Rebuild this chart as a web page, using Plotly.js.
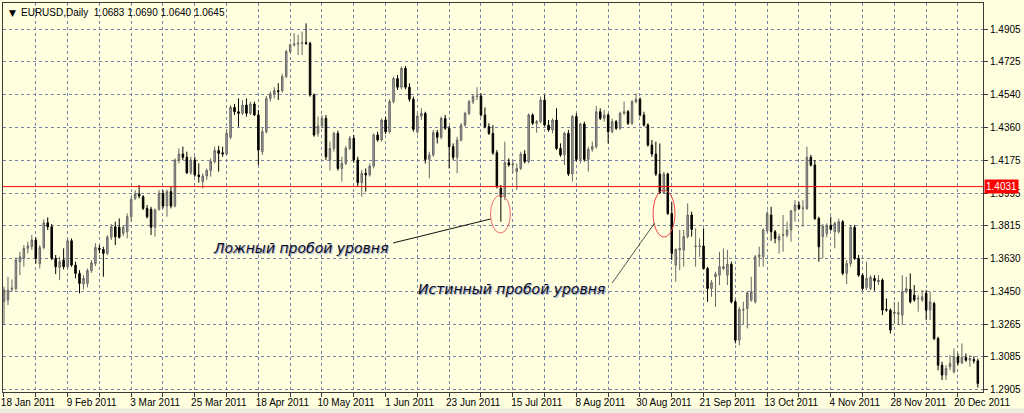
<!DOCTYPE html>
<html>
<head>
<meta charset="utf-8">
<script src="https://cdn.plot.ly/plotly-3.0.1.min.js"></script>
<style>
html,body{margin:0;padding:0;background:#FFFFE0;}
#chart{width:1024px;height:413px;}
</style>
</head>
<body>
<div id="chart"></div>
<script>
// ---- Data (EURUSD daily) ----
const firstDay = '2011-01-18';
const tickLabels = ['18 Jan 2011','9 Feb 2011','3 Mar 2011','25 Mar 2011','18 Apr 2011','10 May 2011','1 Jun 2011','23 Jun 2011','15 Jul 2011','8 Aug 2011','30 Aug 2011','21 Sep 2011','13 Oct 2011','4 Nov 2011','28 Nov 2011','20 Dec 2011'];
const priceTicks = [1.4905,1.4725,1.4540,1.4360,1.4175,1.3995,1.3815,1.3630,1.3450,1.3265,1.3085,1.2905];
const levelPrice = 1.4031;
const headerText = 'EURUSD,Daily  1.0683 1.0690 1.0640 1.0645';
const noteLabels = ['Ложный пробой уровня','Истинный пробой уровня'];

const openP = [
1.3391,1.3401,1.3460,1.3465,1.3614,1.3632,1.3688,1.3697,1.3734,1.3604,
1.3693,1.3830,1.3808,1.3632,1.3582,1.3623,1.3586,1.3730,1.3595,1.3549,
1.3490,1.3493,1.3564,1.3604,1.3688,1.3682,1.3660,1.3749,1.3808,1.3805,
1.3771,1.3780,1.3864,1.3966,1.3990,1.3975,1.3910,1.3905,1.3805,1.3905,
1.3994,1.3923,1.4003,1.3923,1.4179,1.4212,1.4194,1.4108,1.4179,1.4096,
1.4059,1.4090,1.4120,1.4170,1.4231,1.4219,1.4212,1.4305,1.4471,1.4447,
1.4438,1.4484,1.4438,1.4490,1.4429,1.4225,1.4336,1.4521,1.4546,1.4564,
1.4564,1.4642,1.4781,1.4818,1.4823,1.4827,1.4831,1.4827,1.4540,1.4327,
1.4368,1.4410,1.4179,1.4243,1.4327,1.4132,1.4160,1.4243,1.4299,1.4179,
1.4053,1.4105,1.4096,1.4145,1.4318,1.4290,1.4401,1.4336,1.4503,1.4631,
1.4583,1.4688,1.4583,1.4516,1.4336,1.4423,1.4438,1.4182,1.4207,1.4331,
1.4305,1.4410,1.4355,1.4253,1.4194,1.4290,1.4373,1.4438,1.4503,1.4531,
1.4534,1.4429,1.4364,1.4327,1.4219,1.4021,1.3975,1.4164,1.4151,1.4114,
1.4132,1.4212,1.4170,1.4429,1.4383,1.4392,1.4512,1.4373,1.4346,1.4401,
1.4243,1.4207,1.4327,1.4101,1.4420,1.4182,1.4379,1.4182,1.4238,1.4253,
1.4447,1.4410,1.4429,1.4336,1.4392,1.4355,1.4438,1.4447,1.4383,1.4503,
1.4516,1.4429,1.4373,1.4262,1.4212,1.4101,1.3997,1.4101,1.3882,1.3595,
1.3679,1.3679,1.3753,1.3873,1.3697,1.3697,1.3701,1.3576,1.3465,1.3530,
1.3539,1.3576,1.3539,1.3600,1.3391,1.3178,1.3345,1.3354,1.3401,1.3391,
1.3641,1.3641,1.3786,1.3873,1.3780,1.3734,1.3760,1.3762,1.3790,1.3897,
1.3929,1.3910,1.3910,1.4194,1.4151,1.3854,1.3753,1.3771,1.3816,1.3780,
1.3780,1.3836,1.3549,1.3604,1.3805,1.3632,1.3539,1.3471,1.3465,1.3521,
1.3502,1.3512,1.3349,1.3345,1.3326,1.3323,1.3317,1.3447,1.3460,1.3428,
1.3408,1.3401,1.3438,1.3345,1.3382,1.3187,1.3039,1.2984,1.3030,1.3002,
1.3085,1.3052,1.3082,1.3067,1.3070,1.3063];
const highP = [
1.3475,1.3530,1.3515,1.3638,1.3669,1.3706,1.3725,1.3762,1.3749,1.3706,
1.3849,1.3860,1.3823,1.3651,1.3641,1.3688,1.3743,1.3743,1.3614,1.3567,
1.3539,1.3576,1.3623,1.3716,1.3706,1.3697,1.3762,1.3823,1.3836,1.3854,
1.3818,1.3882,1.3975,1.4012,1.4040,1.3984,1.3929,1.3919,1.3910,1.4012,
1.4012,1.4016,1.4031,1.4188,1.4243,1.4253,1.4225,1.4197,1.4197,1.4160,
1.4105,1.4132,1.4188,1.4253,1.4257,1.4253,1.4346,1.4484,1.4490,1.4521,
1.4512,1.4521,1.4503,1.4503,1.4457,1.4355,1.4534,1.4559,1.4583,1.4605,
1.4657,1.4790,1.4827,1.4883,1.4874,1.4892,1.4938,1.4836,1.4549,1.4420,
1.4429,1.4429,1.4281,1.4336,1.4342,1.4197,1.4257,1.4312,1.4318,1.4197,
1.4123,1.4132,1.4160,1.4327,1.4336,1.4410,1.4420,1.4516,1.4642,1.4651,
1.4698,1.4701,1.4605,1.4531,1.4438,1.4466,1.4447,1.4225,1.4346,1.4346,
1.4420,1.4429,1.4368,1.4271,1.4308,1.4383,1.4447,1.4512,1.4546,1.4583,
1.4549,1.4471,1.4383,1.4373,1.4234,1.4040,1.4281,1.4188,1.4170,1.4160,
1.4225,1.4234,1.4438,1.4438,1.4401,1.4531,1.4540,1.4401,1.4410,1.4466,
1.4271,1.4336,1.4346,1.4429,1.4438,1.4386,1.4392,1.4253,1.4281,1.4479,
1.4466,1.4457,1.4438,1.4410,1.4401,1.4447,1.4503,1.4457,1.4512,1.4549,
1.4527,1.4447,1.4383,1.4290,1.4281,1.4271,1.4114,1.4108,1.3942,1.3688,
1.3790,1.3790,1.3938,1.3892,1.3799,1.3743,1.3799,1.3586,1.3512,1.3558,
1.3669,1.3688,1.3679,1.3614,1.3401,1.3363,1.3391,1.3447,1.3530,1.3651,
1.3697,1.3799,1.3897,1.3919,1.3790,1.3771,1.3873,1.3836,1.3901,1.3956,
1.3947,1.3956,1.4253,1.4207,1.4179,1.3864,1.3823,1.3827,1.3864,1.3836,
1.3854,1.3845,1.3623,1.3818,1.3818,1.3651,1.3549,1.3614,1.3539,1.3539,
1.3539,1.3521,1.3410,1.3354,1.3391,1.3391,1.3539,1.3530,1.3549,1.3484,
1.3428,1.3456,1.3456,1.3447,1.3391,1.3197,1.3058,1.3039,1.3095,1.3132,
1.3104,1.3160,1.3104,1.3095,1.3089,1.3076];
const lowP = [
1.3262,1.3373,1.3447,1.3453,1.3539,1.3586,1.3660,1.3679,1.3604,1.3576,
1.3682,1.3790,1.3623,1.3545,1.3512,1.3571,1.3576,1.3586,1.3521,1.3438,
1.3460,1.3471,1.3552,1.3589,1.3660,1.3530,1.3651,1.3734,1.3706,1.3743,
1.3756,1.3743,1.3836,1.3956,1.3966,1.3901,1.3854,1.3762,1.3753,1.3897,
1.3910,1.3864,1.3910,1.3916,1.4160,1.4179,1.4101,1.4096,1.4086,1.4053,
1.4021,1.4068,1.4086,1.4160,1.4114,1.4197,1.4207,1.4294,1.4429,1.4364,
1.4429,1.4420,1.4429,1.4423,1.4151,1.4207,1.4327,1.4503,1.4521,1.4512,
1.4553,1.4633,1.4772,1.4809,1.4762,1.4762,1.4818,1.4531,1.4308,1.4308,
1.4355,1.4179,1.4120,1.4225,1.4120,1.4059,1.4151,1.4234,1.4164,1.4031,
1.3975,1.4003,1.4086,1.4132,1.4281,1.4281,1.4323,1.4327,1.4494,1.4568,
1.4571,1.4571,1.4503,1.4336,1.4323,1.4401,1.4160,1.4077,1.4197,1.4271,
1.4294,1.4346,1.4132,1.4179,1.4105,1.4281,1.4364,1.4429,1.4490,1.4512,
1.4420,1.4355,1.4318,1.4207,1.4021,1.3836,1.3956,1.4142,1.4105,1.4012,
1.4123,1.4160,1.4160,1.4373,1.4331,1.4383,1.4364,1.4336,1.4327,1.4234,
1.4197,1.4151,1.4090,1.4059,1.4170,1.4160,1.4170,1.4114,1.4225,1.4243,
1.4401,1.4392,1.4271,1.4327,1.4346,1.4346,1.4429,1.4373,1.4373,1.4494,
1.4420,1.4364,1.4253,1.4197,1.4090,1.3990,1.3990,1.3873,1.3623,1.3502,
1.3567,1.3586,1.3743,1.3753,1.3586,1.3641,1.3571,1.3391,1.3419,1.3363,
1.3484,1.3567,1.3484,1.3382,1.3160,1.3150,1.3267,1.3243,1.3391,1.3382,
1.3586,1.3586,1.3775,1.3730,1.3716,1.3660,1.3669,1.3749,1.3725,1.3836,
1.3901,1.3808,1.3901,1.4142,1.3845,1.3614,1.3632,1.3749,1.3786,1.3688,
1.3771,1.3539,1.3490,1.3586,1.3623,1.3530,1.3453,1.3456,1.3456,1.3453,
1.3484,1.3317,1.3336,1.3215,1.3271,1.3262,1.3262,1.3438,1.3382,1.3391,
1.3336,1.3391,1.3289,1.3289,1.3178,1.3011,1.2956,1.2956,1.3011,1.2993,
1.3039,1.3045,1.3058,1.3030,1.3048,1.2915];
const closeP = [
1.3456,1.3456,1.3467,1.3623,1.3641,1.3688,1.3701,1.3734,1.3632,1.3693,
1.3830,1.3808,1.3632,1.3586,1.3614,1.3586,1.3730,1.3595,1.3549,1.3493,
1.3521,1.3564,1.3608,1.3693,1.3682,1.3660,1.3749,1.3808,1.3753,1.3749,
1.3805,1.3864,1.3960,1.3990,1.3979,1.3910,1.3864,1.3805,1.3901,1.3994,
1.3923,1.4003,1.3923,1.4179,1.4212,1.4194,1.4108,1.4179,1.4096,1.4086,
1.4090,1.4120,1.4170,1.4231,1.4216,1.4212,1.4327,1.4471,1.4447,1.4438,
1.4484,1.4438,1.4490,1.4429,1.4234,1.4336,1.4521,1.4546,1.4564,1.4559,
1.4642,1.4781,1.4818,1.4823,1.4827,1.4831,1.4827,1.4540,1.4318,1.4368,
1.4410,1.4197,1.4243,1.4327,1.4132,1.4160,1.4243,1.4299,1.4179,1.4053,
1.4105,1.4096,1.4145,1.4318,1.4290,1.4401,1.4336,1.4503,1.4631,1.4583,
1.4688,1.4583,1.4516,1.4349,1.4423,1.4438,1.4182,1.4207,1.4331,1.4305,
1.4410,1.4355,1.4253,1.4194,1.4290,1.4373,1.4438,1.4503,1.4531,1.4534,
1.4429,1.4364,1.4327,1.4219,1.4031,1.3975,1.4164,1.4151,1.4157,1.4132,
1.4212,1.4170,1.4429,1.4383,1.4392,1.4512,1.4373,1.4346,1.4401,1.4243,
1.4207,1.4327,1.4101,1.4420,1.4182,1.4379,1.4182,1.4238,1.4253,1.4447,
1.4410,1.4429,1.4336,1.4392,1.4355,1.4438,1.4447,1.4383,1.4503,1.4516,
1.4429,1.4373,1.4262,1.4212,1.4101,1.3997,1.4101,1.3882,1.3660,1.3682,
1.3688,1.3753,1.3873,1.3793,1.3701,1.3701,1.3576,1.3465,1.3497,1.3545,
1.3586,1.3586,1.3600,1.3391,1.3178,1.3349,1.3349,1.3441,1.3447,1.3641,
1.3651,1.3790,1.3882,1.3780,1.3743,1.3753,1.3764,1.3790,1.3897,1.3929,
1.3910,1.3912,1.4194,1.4151,1.3854,1.3697,1.3812,1.3816,1.3793,1.3827,
1.3836,1.3549,1.3604,1.3805,1.3632,1.3539,1.3465,1.3521,1.3527,1.3508,
1.3512,1.3345,1.3345,1.3234,1.3334,1.3330,1.3447,1.3464,1.3391,1.3401,
1.3410,1.3419,1.3345,1.3391,1.3187,1.3039,1.2984,1.3021,1.3048,1.3085,
1.3052,1.3082,1.3067,1.3076,1.3063,1.2937];

// ---- Helpers ----
const barsPerLabel = 16;
const n = openP.length;
const idx = [];
const dates = [];
(function(){
  const d = new Date(firstDay + 'T00:00:00Z');
  for (let i = 0; i < n; i++) {
    while (d.getUTCDay() === 0 || d.getUTCDay() === 6) d.setUTCDate(d.getUTCDate() + 1);
    idx.push(i);
    dates.push(d.toISOString().slice(0,10));
    d.setUTCDate(d.getUTCDate() + 1);
  }
})();
const xTickVals = [], xTickText = [];
for (let k = 0; k < tickLabels.length * 2; k++) {
  xTickVals.push(k * barsPerLabel / 2);
  xTickText.push(k % 2 === 0 ? tickLabels[k/2] : '');
}

const falseBreak = 125;   // bar of the false breakout
const trueBreak = 166;    // bar of the true breakout

const axisFont = {family: 'Liberation Sans, Arial, sans-serif', size: 10, color: '#000'};
const gridColor = '#7483a3';
const frameColor = '#3a3a3a';

const trace = {
  type: 'candlestick',
  x: idx, open: openP, high: highP, low: lowP, close: closeP,
  text: dates, hoverinfo: 'x+text',
  increasing: {line: {color: '#666666', width: 1}, fillcolor: '#a6a6a6'},
  decreasing: {line: {color: '#000000', width: 1}, fillcolor: '#000000'},
  whiskerwidth: 0,
  showlegend: false
};

const noteFont = {family: 'DejaVu Sans, Verdana, sans-serif', size: 14, color: '#0c0c1c', style: 'italic', shadow: '1px 1px 1px #8a9cc4'};

const layout = {
  width: 1024, height: 413,
  margin: {l: 3, r: 41, t: 3, b: 21, pad: 0},
  paper_bgcolor: '#FFFFE0',
  plot_bgcolor: '#FFFFE0',
  boxgap: 0.45,
  showlegend: false,
  xaxis: {
    range: [-0.25, 246.3],
    tickmode: 'array', tickvals: xTickVals, ticktext: xTickText,
    ticks: 'outside', ticklen: 4, tickcolor: frameColor,
    ticklabelshift: 24, ticklabelstandoff: -3,
    showgrid: true, gridcolor: gridColor, griddash: '3px,3px', gridwidth: 1,
    showline: true, linecolor: frameColor, linewidth: 1, mirror: true,
    zeroline: false, rangeslider: {visible: false},
    tickfont: axisFont, fixedrange: true
  },
  yaxis: {
    side: 'right',
    range: [1.2890, 1.5051],
    tickmode: 'array', tickvals: priceTicks, ticktext: priceTicks.map(v => v.toFixed(4)),
    ticks: 'outside', ticklen: 4, tickcolor: frameColor,
    showgrid: true, gridcolor: gridColor, griddash: '3px,3px', gridwidth: 1,
    showline: true, linecolor: frameColor, linewidth: 1, mirror: true,
    zeroline: false, tickfont: axisFont, fixedrange: true
  },
  shapes: [
    {type: 'line', xref: 'paper', yref: 'y', x0: 0, x1: 1, y0: levelPrice, y1: levelPrice,
     line: {color: '#ff0000', width: 1}},
    {type: 'circle', xref: 'x', yref: 'y', x0: falseBreak - 2.6, x1: falseBreak + 2.4,
     y0: lowP[falseBreak] - 0.0063, y1: levelPrice - 0.0047,
     line: {color: '#ee6a6a', width: 1}},
    {type: 'circle', xref: 'x', yref: 'y', x0: trueBreak - 2.7, x1: trueBreak + 2.8,
     y0: 1.3751, y1: levelPrice - 0.0019,
     line: {color: '#ee4040', width: 1}},
    {type: 'line', xref: 'x', yref: 'y', x0: 97.9, y0: 1.3718, x1: falseBreak - 2.6, y1: 1.3851,
     line: {color: '#111111', width: 1}},
    {type: 'line', xref: 'x', yref: 'y', x0: 153.0, y0: 1.3495, x1: trueBreak - 2.3, y1: 1.3829,
     line: {color: '#555555', width: 1}},
    {type: 'rect', xref: 'paper', yref: 'paper', x0: -0.01, x1: 1.05, y0: -0.0415, y1: -0.06,
     fillcolor: '#ededdf', line: {width: 0}, layer: 'below'}
  ],
  annotations: [
    {xref: 'paper', yref: 'paper', x: 0.0045, y: 0.975, xanchor: 'left', yanchor: 'middle',
     text: '\u25BC', showarrow: false, font: {family: 'DejaVu Sans', size: 9, color: '#000'}},
    {xref: 'paper', yref: 'paper', x: 0.0165, y: 0.976, xanchor: 'left', yanchor: 'middle',
     text: headerText.replace('  ', '&nbsp;&nbsp;'), showarrow: false, font: {family: 'Liberation Sans, Arial, sans-serif', size: 10, color: '#000'}},
    {xref: 'paper', yref: 'y', x: 1, y: levelPrice, xanchor: 'left', yanchor: 'middle', xshift: 1,
     text: levelPrice.toFixed(4), showarrow: false, bgcolor: '#ff0000', borderpad: 1,
     font: {family: 'Liberation Sans, Arial, sans-serif', size: 10, color: '#ffffff'}},
    {xref: 'x', yref: 'y', x: 52.1, y: 1.3690, xanchor: 'left', yanchor: 'middle',
     text: noteLabels[0], showarrow: false, font: noteFont},
    {xref: 'x', yref: 'y', x: 103.6, y: 1.3462, xanchor: 'left', yanchor: 'middle',
     text: noteLabels[1], showarrow: false, font: noteFont}
  ]
};

Plotly.newPlot('chart', [trace], layout, {displayModeBar: false, staticPlot: true});
</script>
</body>
</html>
